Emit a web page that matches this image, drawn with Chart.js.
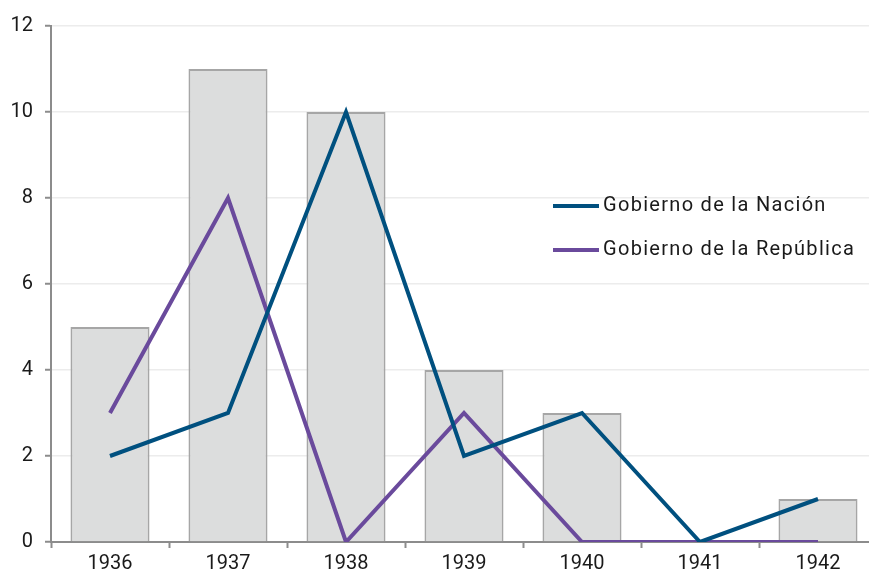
<!DOCTYPE html>
<html>
<head>
<meta charset="utf-8">
<script src="https://cdn.jsdelivr.net/npm/chart.js@4"></script>
<style>
  html, body { margin: 0; padding: 0; background: #fff; overflow: hidden; }
  #wrap { width: 877px; height: 573px; position: relative; }
</style>
</head>
<body>
<div id="wrap"><canvas id="graphCanvas" width="877" height="573"></canvas></div>
<script>
var years = ['1936', '1937', '1938', '1939', '1940', '1941', '1942'];
var totals = [5, 11, 10, 4, 3, 0, 1];
var nacion = [2, 3, 10, 2, 3, 0, 1];
var republica = [3, 8, 0, 3, 0, 0, 0];
var yTicks = [0, 2, 4, 6, 8, 10, 12];

var axisGrey = '#8c8c8c';
var tickFont = { family: 'Roboto', size: 20 };

// legend drawn inside the plot, right of the 1939 bar
var innerLegend = {
	id: 'innerLegend',
	afterDraw: function (chart) {
		var ctx = chart.ctx;
		var rows = [
			{ ds: chart.data.datasets[0], y: 206 },
			{ ds: chart.data.datasets[1], y: 250 }
		];
		ctx.save();
		ctx.font = '20px Roboto';
		ctx.letterSpacing = '1.3px';
		ctx.textBaseline = 'middle';
		ctx.fillStyle = '#1a1a1a';
		rows.forEach(function (r) {
			ctx.strokeStyle = r.ds.borderColor;
			ctx.lineWidth = 4;
			ctx.beginPath();
			ctx.moveTo(553, r.y);
			ctx.lineTo(599, r.y);
			ctx.stroke();
			ctx.fillText(r.ds.label, 603, r.y);
		});
		ctx.restore();
	}
};

var chartdata = {
	labels: years,
	datasets: [
		{
			type: 'line',
			label: 'Gobierno de la Nación',
			data: nacion,
			borderColor: '#00507f',
			borderWidth: 4,
			radius: 0,
			fill: false,
			order: 1
		},
		{
			type: 'line',
			label: 'Gobierno de la República',
			data: republica,
			borderColor: '#6a4a9c',
			borderWidth: 4,
			radius: 0,
			fill: false,
			order: 2
		},
		{
			type: 'bar',
			label: 'Total',
			data: totals,
			backgroundColor: '#dcdddd',
			borderColor: '#a6a6a6',
			borderWidth: 2,
			barPercentage: 0.67,
			categoryPercentage: 1,
			order: 3
		}
	]
};

new Chart(document.getElementById('graphCanvas'), {
	type: 'bar',
	data: chartdata,
	plugins: [innerLegend],
	options: {
		responsive: false,
		animation: false,
		devicePixelRatio: 1,
		layout: { padding: { top: 26, right: 0, left: 0, bottom: 0 } },
		plugins: {
			legend: { display: false },
			tooltip: { enabled: false }
		},
		scales: {
			x: {
				offset: true,
				grid: {
					offset: true,
					drawOnChartArea: false,
					tickLength: 6,
					tickColor: axisGrey,
					tickWidth: 2
				},
				border: { color: axisGrey, width: 2 },
				ticks: { font: tickFont, color: '#1a1a1a', padding: 4 },
				afterFit: function (s) { s.height = 31; }
			},
			y: {
				min: 0,
				max: 12,
				afterBuildTicks: function (s) {
					s.ticks = yTicks.map(function (v) { return { value: v }; });
				},
				grid: {
					color: '#ececec',
					lineWidth: 1.5,
					tickLength: 6,
					tickColor: axisGrey,
					tickWidth: 2
				},
				border: { color: axisGrey, width: 2 },
				ticks: { font: tickFont, color: '#1a1a1a', padding: 12 },
				afterFit: function (s) { s.width = 51; }
			}
		}
	}
});
</script>
</body>
</html>
